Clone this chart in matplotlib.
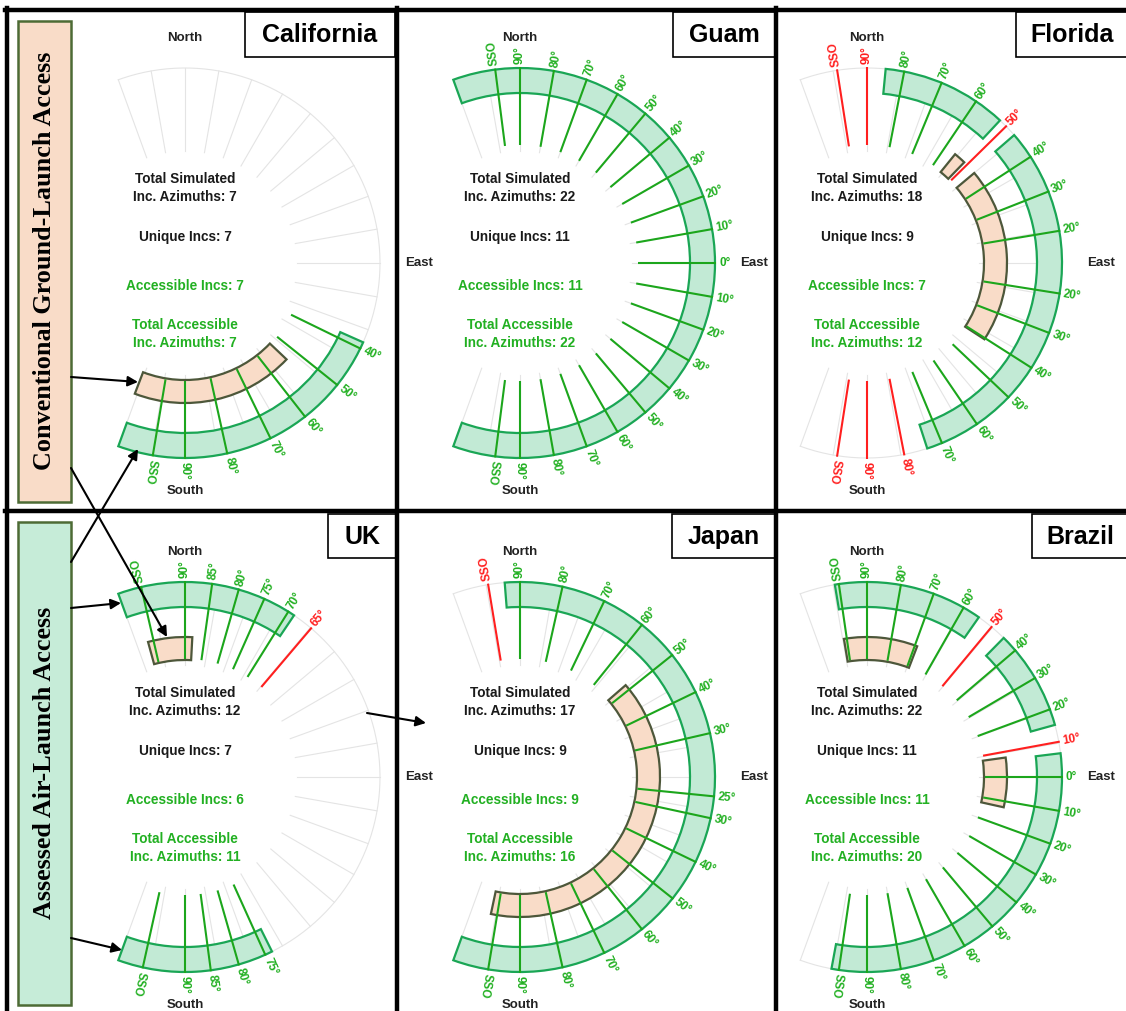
import numpy as np
import matplotlib.pyplot as plt
from matplotlib.patches import Rectangle

plt.rcParams['font.family'] = ['Liberation Sans', 'DejaVu Sans']

# ---- data: ray directions (deg, 0 = East, 90 = North), labels, blocked rays, bands ----
cal_angles = [-26, -38.7, -52, -64, -77.5, -90, -99.5]
cal_labels = ['40°', '50°', '60°', '70°', '80°', '90°', 'SSO']
cal_blocked = []
cal_outer = [(-24, -110)]
cal_inner = [(-43.5, -111)]
cal_counts = [7, 7, 7, 7]

guam_angles = [97.3, 90, 80, 70, 60, 50, 40, 30, 20, 10, 0,
               -10, -20, -30, -40, -50, -60, -70, -80, -90, -97.3]
guam_labels = ['SSO', '90°', '80°', '70°', '60°', '50°', '40°', '30°', '20°', '10°', '0°',
               '10°', '20°', '30°', '40°', '50°', '60°', '70°', '80°', '90°', 'SSO']
guam_blocked = []
guam_outer = [(110, -110)]
guam_inner = []
guam_counts = [22, 11, 11, 22]

fla_angles = [98.8, 90, 79, 67.5, 56, 44.5, 33, 21.5, 9.5,
              -9, -21, -32.5, -43.5, -55.7, -67.4, -79, -90, -98.8]
fla_labels = ['SSO', '90°', '80°', '70°', '60°', '50°', '40°', '30°', '20°',
              '20°', '30°', '40°', '50°', '60°', '70°', '80°', '90°', 'SSO']
fla_blocked = [0, 1, 5, 15, 16, 17]
fla_outer = [(84.5, 47), (41, -72)]
fla_inner = [(51, 46), (40, -33)]
fla_counts = [18, 9, 7, 12]

uk_angles = [103, 90, 82, 74, 66, 58, 49.7,
             -65.7, -74, -82.4, -90, -102.5]
uk_labels = ['SSO', '90°', '85°', '80°', '75°', '70°', '65°',
             '75°', '80°', '85°', '90°', 'SSO']
uk_blocked = [6]
uk_outer = [(110, 56), (-63.5, -110)]
uk_inner = [(105.3, 87)]
uk_counts = [12, 7, 6, 11]

jpn_angles = [99.4, 90, 77.4, 64.4, 51.3, 38.7, 25.8, 13,
              -5.7, -12.2, -25.8, -38.5, -51.3, -64.4, -77.4, -90, -99.4]
jpn_labels = ['SSO', '90°', '80°', '70°', '60°', '50°', '40°', '30°',
              '25°', '30°', '40°', '50°', '60°', '70°', '80°', '90°', 'SSO']
jpn_blocked = [0]
jpn_outer = [(94.5, -110)]
jpn_inner = [(41, -102)]
jpn_counts = [17, 9, 9, 16]

bra_angles = [98.3, 90, 80, 70, 60.3, 50.3, 40.5, 30.5, 20.3, 10.4, 0,
              -10, -20, -30, -40, -50, -60, -70, -80, -90, -98.3]
bra_labels = ['SSO', '90°', '80°', '70°', '60°', '50°', '40°', '30°', '20°', '10°', '0°',
              '10°', '20°', '30°', '40°', '50°', '60°', '70°', '80°', '90°', 'SSO']
bra_blocked = [5, 9]
bra_outer = [(99.5, 55), (45.5, 15.5), (7, -100.5)]
bra_inner = [(99.5, 69), (8, -12.5)]
bra_counts = [22, 11, 11, 20]

# ---- styling ----
W, H = 1126, 1011
GREEN_RAY = '#1ca61c'
GREEN_TXT = '#22b022'
BAND_FACE = '#c2ead5'
BAND_EDGE = '#1aa655'
PEACH_FACE = '#f9dcc8'
PEACH_EDGE = '#4d573a'
RED = '#ff1f1f'
GRID = '#e4e4e4'
BOX_EDGE = '#4d6b35'

R_GRID_IN, R_RAY_IN, R_OUT = 112, 118, 195
OUTER_BAND = (170, 195)
INNER_BAND = (117, 140)
R_LABEL = 199
RMAX = 250

fig = plt.figure(figsize=(W / 100, H / 100), dpi=100)


def band(ax, a0, a1, rr, fc, ec):
    t0, t1 = np.radians(a0), np.radians(a1)
    ax.bar((t0 + t1) / 2, rr[1] - rr[0], width=abs(t1 - t0), bottom=rr[0],
           facecolor=fc, edgecolor=ec, linewidth=1.6, zorder=2)


def draw_site(cx, cy, angles, labels, blocked, outer, inner, counts):
    ax = fig.add_axes([(cx - RMAX) / W, (H - cy - RMAX) / H, 2 * RMAX / W, 2 * RMAX / H],
                      projection='polar')
    ax.set_ylim(0, RMAX)
    ax.set_axis_off()

    # faint background grid
    for a in range(-110, 111, 10):
        t = np.radians(a)
        ax.plot([t, t], [R_GRID_IN, R_OUT], color=GRID, lw=0.8, zorder=1)
    arc = np.radians(np.linspace(-110, 110, 300))
    ax.plot(arc, np.full_like(arc, R_OUT), color=GRID, lw=0.8, zorder=1)

    for a0, a1 in outer:
        band(ax, a0, a1, OUTER_BAND, BAND_FACE, BAND_EDGE)
    for a0, a1 in inner:
        band(ax, a0, a1, INNER_BAND, PEACH_FACE, PEACH_EDGE)

    for i, (ang, lab) in enumerate(zip(angles, labels)):
        t = np.radians(ang)
        col = RED if i in blocked else GREEN_RAY
        tcol = RED if i in blocked else GREEN_TXT
        ax.plot([t, t], [R_RAY_IN, R_OUT + 1], color=col, lw=1.5, zorder=3,
                solid_capstyle='butt')
        ax.text(t, R_LABEL, lab, rotation=ang, rotation_mode='anchor',
                ha='left', va='center', fontsize=8.5, fontweight='bold', color=tcol)

    ax.text(np.radians(90), 225, 'North', ha='center', va='center',
            fontsize=9.5, fontweight='bold', color='#222222')
    ax.text(np.radians(-90), 228, 'South', ha='center', va='center',
            fontsize=9.5, fontweight='bold', color='#222222')
    ax.text(0, 234, 'East', ha='center', va='center',
            fontsize=9.5, fontweight='bold', color='#222222')

    stats = [('Total Simulated\nInc. Azimuths: %d' % counts[0], 75, '#1a1a1a'),
             ('Unique Incs: %d' % counts[1], 26, '#1a1a1a'),
             ('Accessible Incs: %d' % counts[2], -23, GREEN_TXT),
             ('Total Accessible\nInc. Azimuths: %d' % counts[3], -71, GREEN_TXT)]
    for txt, dy, c in stats:
        ax.text(0.5, 0.5 + dy / (2 * RMAX), txt, transform=ax.transAxes,
                ha='center', va='center', fontsize=9.8, fontweight='bold',
                color=c, linespacing=1.3)
    return ax


draw_site(185, 263, cal_angles, cal_labels, cal_blocked, cal_outer, cal_inner, cal_counts)
draw_site(520, 263, guam_angles, guam_labels, guam_blocked, guam_outer, guam_inner, guam_counts)
draw_site(867, 263, fla_angles, fla_labels, fla_blocked, fla_outer, fla_inner, fla_counts)
draw_site(185, 777, uk_angles, uk_labels, uk_blocked, uk_outer, uk_inner, uk_counts)
draw_site(520, 777, jpn_angles, jpn_labels, jpn_blocked, jpn_outer, jpn_inner, jpn_counts)
draw_site(867, 777, bra_angles, bra_labels, bra_blocked, bra_outer, bra_inner, bra_counts)

# ---- frame, titles, side boxes and arrows (pixel coordinates) ----
ov = fig.add_axes([0, 0, 1, 1], zorder=5)
ov.set_xlim(0, W)
ov.set_ylim(H, 0)
ov.set_axis_off()

blw = 3.2
ov.plot([5, W], [10, 10], color='black', lw=blw)
ov.plot([7, 7], [8, H], color='black', lw=blw)
ov.plot([397, 397], [8, H], color='black', lw=blw)
ov.plot([776, 776], [8, H], color='black', lw=blw)
ov.plot([5, W], [511, 511], color='black', lw=blw)

titles = [('California', 245, 12, 150, 45), ('Guam', 673, 12, 102, 45),
          ('Florida', 1016, 12, 112, 45), ('UK', 328, 514, 68, 44),
          ('Japan', 672, 514, 103, 44), ('Brazil', 1032, 514, 96, 44)]
for name, x, y, w, h in titles:
    ov.add_patch(Rectangle((x, y), w, h, facecolor='white', edgecolor='black', lw=1.2))
    ov.text(x + w / 2, y + h / 2 + 1, name, ha='center', va='center',
            fontsize=18, fontweight='bold', color='black')

ov.add_patch(Rectangle((18, 21), 53, 481, facecolor=PEACH_FACE, edgecolor=BOX_EDGE, lw=1.8))
ov.text(44.5, 261, 'Conventional Ground-Launch Access', rotation=90, ha='center',
        va='center', fontsize=18.8, fontweight='bold', family='Liberation Serif')
ov.add_patch(Rectangle((18, 522), 53, 483, facecolor='#c6ecd8', edgecolor=BOX_EDGE, lw=1.8))
ov.text(44.5, 763, 'Assessed Air-Launch Access', rotation=90, ha='center',
        va='center', fontsize=18.8, fontweight='bold', family='Liberation Serif')

arrows = [((71, 377), (138, 382)), ((71, 468), (167, 637)), ((71, 562), (138, 449)),
          ((71, 608), (121, 603)), ((71, 938), (122, 950)), ((367, 713), (426, 723))]
for tail, head in arrows:
    ov.annotate('', xy=head, xytext=tail,
                arrowprops=dict(arrowstyle='-|>', color='black', lw=1.5,
                                mutation_scale=15, shrinkA=0, shrinkB=0))

fig.savefig('out.png', dpi=100)
